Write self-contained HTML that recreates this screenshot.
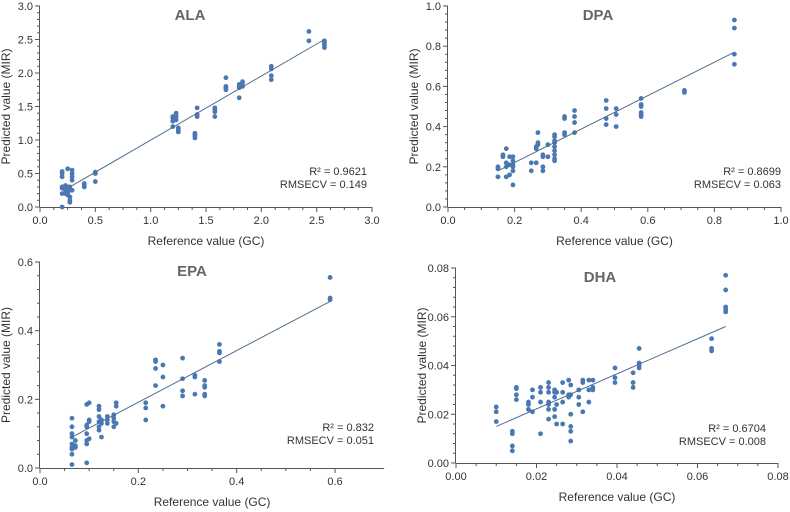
<!DOCTYPE html>
<html><head><meta charset="utf-8"><style>
html,body{margin:0;padding:0;background:#fff;}
svg{display:block;font-family:"Liberation Sans",Arial,sans-serif;}
</style></head><body>
<svg id="fig" width="790" height="512" viewBox="0 0 790 512"></svg>
<script>
// ---- data (groups: reference x, predicted values) ----
const alaGroups=[[0.2,[0.0,0.2,0.28,0.3,0.45,0.5,0.53]],[0.23,[0.25,0.3,0.32,0.2]],[0.25,[0.57,0.3,0.27,0.22,0.18]],[0.27,[0.15,0.1,0.07,0.3,0.25]],[0.29,[0.55,0.5,0.45,0.4,0.25]],[0.4,[0.3,0.33,0.35]],[0.5,[0.5,0.52,0.38]],[1.2,[1.2,1.28,1.33,1.35]],[1.23,[1.3,1.35,1.4]],[1.25,[1.12,1.15,1.18]],[1.4,[1.03,1.06,1.08,1.1]],[1.42,[1.35,1.38,1.48]],[1.58,[1.35,1.42,1.45,1.48]],[1.68,[1.75,1.78,1.8,1.93]],[1.8,[1.63,1.78,1.8,1.83]],[1.83,[1.8,1.85,1.87]],[2.09,[1.9,1.96,2.06,2.1]],[2.43,[2.48,2.62]],[2.57,[2.38,2.42,2.45,2.48]]];
const dpaGroups=[[0.15,[0.15,0.19,0.2]],[0.165,[0.25,0.26]],[0.175,[0.29,0.22,0.2,0.15]],[0.185,[0.25,0.16,0.21]],[0.195,[0.25,0.23,0.21,0.18,0.11,0.2]],[0.25,[0.22,0.18]],[0.265,[0.29,0.3,0.22]],[0.27,[0.37,0.32,0.31]],[0.285,[0.26,0.25,0.2,0.18]],[0.3,[0.31,0.25]],[0.32,[0.23,0.24,0.26,0.28,0.3,0.32,0.33,0.35,0.36]],[0.35,[0.45,0.44,0.37,0.36]],[0.38,[0.48,0.45,0.42,0.37]],[0.475,[0.53,0.49,0.44,0.41]],[0.505,[0.49,0.46,0.4]],[0.58,[0.54,0.51,0.5,0.47,0.46,0.45]],[0.71,[0.58,0.57]],[0.86,[0.93,0.89,0.76,0.71]]];
const epaGroups=[[0.065,[0.01,0.04,0.055,0.06,0.07,0.09,0.1,0.12,0.145]],[0.072,[0.06,0.08,0.065]],[0.095,[0.015,0.07,0.08,0.1,0.12,0.125,0.185]],[0.1,[0.19,0.14,0.135,0.085]],[0.12,[0.18,0.17,0.15,0.135,0.12,0.11]],[0.125,[0.09,0.13,0.14]],[0.137,[0.15,0.14,0.13]],[0.15,[0.155,0.145,0.135,0.12]],[0.155,[0.19,0.18,0.13]],[0.215,[0.19,0.175,0.14]],[0.235,[0.315,0.31,0.29,0.24]],[0.25,[0.3,0.265,0.18]],[0.29,[0.32,0.26,0.225,0.21]],[0.315,[0.27,0.265,0.215]],[0.335,[0.255,0.24,0.235,0.215,0.21]],[0.365,[0.36,0.34,0.335,0.31]],[0.59,[0.555,0.49,0.495]]];
const dhaGroups=[[0.01,[0.023,0.021,0.017]],[0.014,[0.013,0.012,0.007,0.005]],[0.015,[0.031,0.0305,0.028,0.026]],[0.018,[0.025,0.024,0.022]],[0.019,[0.030,0.027,0.021]],[0.021,[0.031,0.029,0.025,0.012]],[0.023,[0.033,0.031,0.029,0.025,0.024,0.022,0.018]],[0.0245,[0.030,0.029,0.027,0.022,0.019]],[0.025,[0.029,0.024,0.016]],[0.0265,[0.033,0.029,0.025,0.016]],[0.028,[0.034,0.028,0.027]],[0.0285,[0.032,0.028,0.020,0.015,0.013,0.009]],[0.0305,[0.030,0.027,0.024]],[0.0315,[0.034,0.033,0.021]],[0.033,[0.034,0.030,0.025]],[0.034,[0.034,0.031,0.030]],[0.0395,[0.039,0.035,0.033]],[0.044,[0.037,0.033,0.031]],[0.0455,[0.047,0.041,0.040,0.039]],[0.0635,[0.051,0.047,0.046]],[0.067,[0.077,0.071,0.064,0.063,0.062]]];
const alaFit=[[0.27,0.3],[2.57,2.5]];
const dpaFit=[[0.15,0.18],[0.86,0.77]];
const epaFit=[[0.065,0.09],[0.59,0.485]];
const dhaFit=[[0.01,0.015],[0.067,0.056]];
const alaTicksX=["0.0","0.5","1.0","1.5","2.0","2.5","3.0"], alaTicksY=["0.0","0.5","1.0","1.5","2.0","2.5","3.0"];
const dpaTicksX=["0.0","0.2","0.4","0.6","0.8","1.0"], dpaTicksY=["0.0","0.2","0.4","0.6","0.8","1.0"];
const epaTicksX=["0.0","0.2","0.4","0.6"], epaTicksY=["0.0","0.2","0.4","0.6"];
const dhaTicksX=["0.00","0.02","0.04","0.06","0.08"], dhaTicksY=["0.00","0.02","0.04","0.06","0.08"];
const stats=[["R² = 0.9621","RMSECV = 0.149"],["R² = 0.8699","RMSECV = 0.063"],["R² = 0.832","RMSECV = 0.051"],["R² = 0.6704","RMSECV = 0.008"]];

const NS="http://www.w3.org/2000/svg";
const svg=document.getElementById('fig');
function mk(tag,attrs,parent,text){const e=document.createElementNS(NS,tag);for(const k in attrs)e.setAttribute(k,attrs[k]);if(text!==undefined)e.textContent=text;parent.appendChild(e);return e;}

const panels=[
 {key:'ala',title:'ALA',groups:alaGroups,fit:alaFit,tx:alaTicksX,ty:alaTicksY,xmax:3,ymax:3,xstep:0.5,ystep:0.5,x0:40,x1:372,y0:207,y1:6,xend:3,tcx:190,st:stats[0],sx:367,sy:175},
 {key:'dpa',title:'DPA',groups:dpaGroups,fit:dpaFit,tx:dpaTicksX,ty:dpaTicksY,xmax:1,ymax:1,xstep:0.2,ystep:0.2,x0:448,x1:781,y0:207,y1:6,xend:1,tcx:598,st:stats[1],sx:781,sy:175},
 {key:'epa',title:'EPA',groups:epaGroups,fit:epaFit,tx:epaTicksX,ty:epaTicksY,xmax:0.6,ymax:0.6,xstep:0.2,ystep:0.2,x0:40,x1:335,y0:468,y1:262,xend:0.7,tcx:192,st:stats[2],sx:374,sy:431},
 {key:'dha',title:'DHA',groups:dhaGroups,fit:dhaFit,tx:dhaTicksX,ty:dhaTicksY,xmax:0.08,ymax:0.08,xstep:0.02,ystep:0.02,x0:456,x1:778,y0:463,y1:268,xend:0.08,tcx:600,st:stats[3],sx:766,sy:432}
];
panels.forEach(p=>{
 const g=mk('g',{},svg);
 
 
 const X=v=>p.x0+(v/p.xmax)*(p.x1-p.x0);
 const Y=v=>p.y0-(v/p.ymax)*(p.y0-p.y1);
 const xe=X(p.xend), yTop=Y(p.ymax);
 const ax=mk('g',{stroke:'#555','stroke-width':1},g);
 
 
 mk('line',{x1:p.x0,y1:p.y0+0.5,x2:xe,y2:p.y0+0.5},ax);
 mk('line',{x1:p.x0-0.5,y1:yTop,x2:p.x0-0.5,y2:p.y0},ax);
 // y ticks
 p.ty.forEach((t,i)=>{const y=Y(i*p.ystep);mk('line',{x1:p.x0-5,y1:y,x2:p.x0,y2:y},ax);
  const lb=mk('text',{x:p.x0-7,y:y+4,'text-anchor':'end','font-size':11,fill:'#333',stroke:'none'},g,t);
  
  
  if(i<p.ty.length-1){for(let k=1;k<5;k++){const ym=Y((i+k/5)*p.ystep);mk('line',{x1:p.x0-3,y1:ym,x2:p.x0,y2:ym},ax);}}});
 // x ticks
 const nx=Math.round(p.xend/p.xstep);
 for(let i=0;i<=nx;i++){const x=X(i*p.xstep);mk('line',{x1:x,y1:p.y0,x2:x,y2:p.y0+5},ax);
  if(i<nx){for(let k=1;k<4;k++){const xm=X((i+k/4)*p.xstep);mk('line',{x1:xm,y1:p.y0,x2:xm,y2:p.y0+3},ax);}}}
 p.tx.forEach((t,i)=>{const lb=mk('text',{x:X(i*p.xstep),y:p.y0+17,'text-anchor':'middle','font-size':11,fill:'#333'},g,t);
  
  });
 // axis titles
 const xt=mk('text',{x:(p.x0+xe)/2,y:p.y0+38,'text-anchor':'middle','font-size':12,fill:'#333'},g,'Reference value (GC)');
 
 
 const yc=(p.y0+yTop)/2;
 const yt=mk('text',{x:p.x0-30,y:yc,'text-anchor':'middle','font-size':12,fill:'#333',transform:`rotate(-90 ${p.x0-30} ${yc})`},g,'Predicted value (MIR)');
 
 
 const ti=mk('text',{x:p.tcx,y:yTop+14,'text-anchor':'middle','font-size':15,'font-weight':'bold',fill:'#666'},g,p.title);
 
 
 // points
 p.groups.forEach(gr=>gr[1].forEach(v=>{const c=mk('circle',{cx:X(gr[0]),cy:Y(v),r:2.4,fill:'#4a78b2'},g);
  
  }));
 // fit line
 const fl=mk('line',{x1:X(p.fit[0][0]),y1:Y(p.fit[0][1]),x2:X(p.fit[1][0]),y2:Y(p.fit[1][1]),stroke:'#4d6e90','stroke-width':1},g);
 
 
 // stats
 p.st.forEach((s,i)=>{const t=mk('text',{x:p.sx,y:p.sy+i*13,'text-anchor':'end','font-size':11,fill:'#333'},g,s);
  
  });
});
</script>
</body></html>
